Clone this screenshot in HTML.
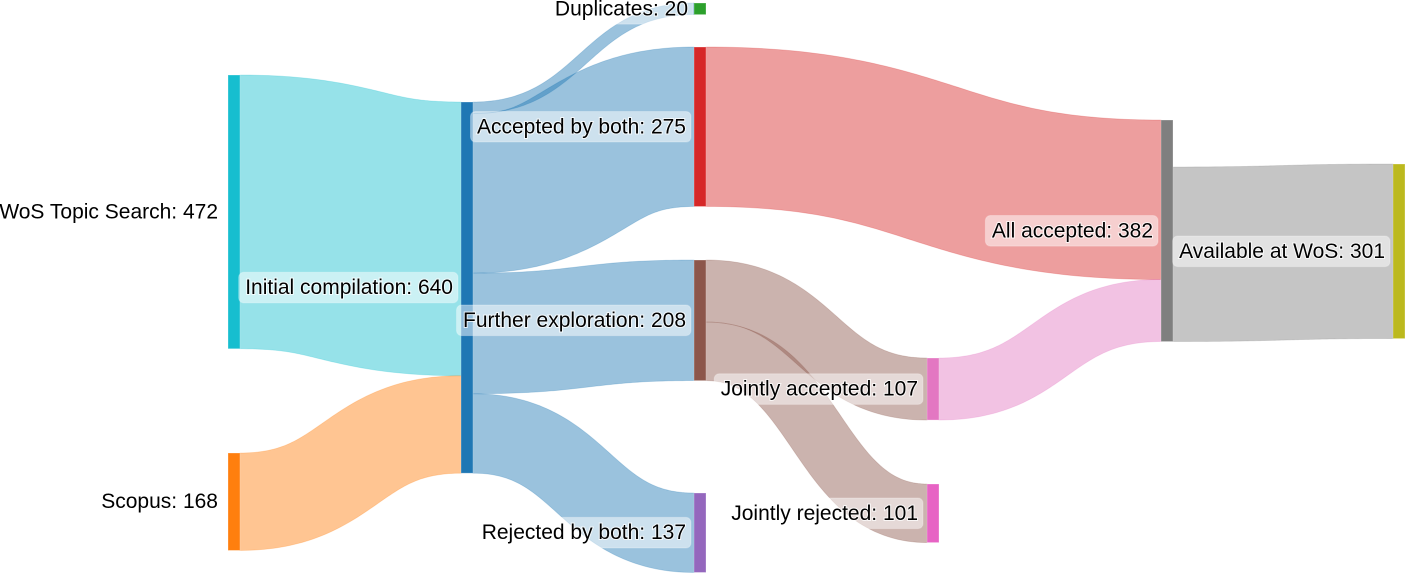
<!DOCTYPE html>
<html lang="en">
<head>
<meta charset="utf-8">
<title>Literature selection Sankey diagram</title>
<style>
  html, body { margin: 0; padding: 0; background: #ffffff; }
  body { width: 1406px; height: 573px; overflow: hidden; }
  svg { display: block; filter: blur(0.35px); }
  text {
    font-family: "Liberation Sans", sans-serif;
    font-size: 21px;
    fill: #000;
    stroke: rgba(255,255,255,0.75);
    stroke-width: 2px;
    paint-order: stroke;
    text-anchor: end;
    dominant-baseline: central;
  }
</style>
</head>
<body>
<svg id="chart" width="1406" height="573" viewBox="0 0 1406 573" xmlns="http://www.w3.org/2000/svg">
  <g id="links"></g>
  <g id="nodes"></g>
  <g id="labels"></g>
</svg>
<script>
// ---- data ----
const nodeNames = ["WoS Topic Search", "Scopus", "Initial compilation", "Duplicates", "Accepted by both",
                   "Further exploration", "Rejected by both", "Jointly accepted", "Jointly rejected",
                   "All accepted", "Available at WoS"];
const nodeValues = [472, 168, 640, 20, 275, 208, 137, 107, 101, 382, 301];
const linkSources = [0, 1, 2, 2, 2, 2, 4, 5, 5, 7, 9];
const linkTargets = [2, 2, 3, 4, 5, 6, 9, 7, 8, 9, 10];
const linkValues  = [472, 168, 20, 275, 208, 137, 275, 107, 101, 107, 301];

// ---- layout (not data) ----
const PX_PER_UNIT = 0.58;
const NODE_WIDTH = 12;
const SAMPLES = 80;
const nodeLayout = [
  { col: 0, top: 75,  gap: 10, color: "#17becf", link: "#17becf" },
  { col: 0, top: 453, gap: 10, color: "#ff7f0e", link: "#ff7f0e" },
  { col: 1, top: 102, gap: 8,  color: "#1f77b4", link: "#1f77b4" },
  { col: 2, top: 3,   gap: 6,  color: "#2ca02c", link: "#2ca02c" },
  { col: 2, top: 47,  gap: 8,  color: "#d62728", link: "#d62728" },
  { col: 2, top: 260, gap: 8,  color: "#8c564b", link: "#8c564b" },
  { col: 2, top: 493, gap: 8,  color: "#9467bd", link: "#9467bd" },
  { col: 3, top: 358, gap: 9,  color: "#e377c2", link: "#e377c2" },
  { col: 3, top: 484, gap: 9,  color: "#e763c4", link: "#e377c2" },
  { col: 4, top: 120, gap: 8,  color: "#7f7f7f", link: "#7f7f7f" },
  { col: 5, top: 164, gap: 8,  color: "#bcb91e", link: "#bcbd22" }
];
const columnLeft = [228, 461, 694, 927, 1161, 1393];

function xOf(i) { return columnLeft[nodeLayout[i].col]; }
function yScale(v) { return v * PX_PER_UNIT; }

const NS = "http://www.w3.org/2000/svg";
const linksGroup = document.getElementById("links");
const nodesGroup = document.getElementById("nodes");
const labelsGroup = document.getElementById("labels");

function slug(s) { return s.toLowerCase().replace(/[^a-z0-9]+/g, "-"); }

// A band of constant perpendicular width following a horizontal S-curve centre line.
function bandPath(x0, x1, yc0, yc1, h) {
  const xm = (x0 + x1) / 2;
  const upper = [], lower = [];
  for (let n = 0; n <= SAMPLES; n++) {
    const t = n / SAMPLES, u = 1 - t;
    const x = u*u*u*x0 + 3*u*u*t*xm + 3*u*t*t*xm + t*t*t*x1;
    const y = u*u*u*yc0 + 3*u*u*t*yc0 + 3*u*t*t*yc1 + t*t*t*yc1;
    const dx = 3*u*u*(xm-x0) + 3*t*t*(x1-xm);
    const dy = 6*u*t*(yc1-yc0);
    const len = Math.hypot(dx, dy) || 1;
    const ox = -dy / len * h / 2, oy = dx / len * h / 2;
    const clamp = v => Math.min(x1, Math.max(x0, v));
    upper.push(clamp(x - ox).toFixed(2) + "," + (y - oy).toFixed(2));
    lower.push(clamp(x + ox).toFixed(2) + "," + (y + oy).toFixed(2));
  }
  return "M" + upper.join("L") + "L" + lower.reverse().join("L") + "Z";
}

// totals out per node
const totalOut = nodeNames.map(() => 0);
linkValues.forEach((v, k) => { totalOut[linkSources[k]] += v; });

// out-flow sits at the bottom of a node when part of the inflow leaves the chart
const outCursor = nodeNames.map((_, i) => Math.max(0, nodeValues[i] - totalOut[i]));
const inCursor = nodeNames.map(() => 0);

// links
linkValues.forEach((v, k) => {
  const s = linkSources[k], t = linkTargets[k];
  const x0 = xOf(s) + NODE_WIDTH, x1 = xOf(t);
  const h = yScale(v);
  const y0 = nodeLayout[s].top + yScale(outCursor[s]);
  const y1 = nodeLayout[t].top + yScale(inCursor[t]);
  outCursor[s] += v;
  inCursor[t] += v;
  const p = document.createElementNS(NS, "path");
  p.setAttribute("d", bandPath(x0, x1, y0 + h / 2, y1 + h / 2, h));
  p.setAttribute("fill", nodeLayout[s].link);
  p.setAttribute("fill-opacity", "0.45");
  p.setAttribute("stroke", nodeLayout[s].link);
  p.setAttribute("stroke-opacity", "0.25");
  p.setAttribute("stroke-width", "0.8");
  
  
  linksGroup.appendChild(p);
});

// nodes
nodeNames.forEach((name, i) => {
  const r = document.createElementNS(NS, "rect");
  r.setAttribute("x", xOf(i));
  r.setAttribute("y", nodeLayout[i].top);
  r.setAttribute("width", NODE_WIDTH);
  r.setAttribute("height", yScale(nodeValues[i]));
  r.setAttribute("fill", nodeLayout[i].color);
  r.setAttribute("stroke", "rgba(255,255,255,0.35)");
  r.setAttribute("stroke-width", "0.8");
  
  
  nodesGroup.appendChild(r);
});

// labels
nodeNames.forEach((name, i) => {
  const cy = nodeLayout[i].top + yScale(nodeValues[i]) / 2;
  const right = xOf(i) - nodeLayout[i].gap;
  const box = document.createElementNS(NS, "rect");
  
  
  labelsGroup.appendChild(box);
  const t = document.createElementNS(NS, "text");
  t.setAttribute("x", right);
  t.setAttribute("y", cy);
  t.textContent = name + ": " + nodeValues[i];
  
  
  labelsGroup.appendChild(t);
  const w = t.getComputedTextLength();
  box.setAttribute("x", right - w - 6.5);
  box.setAttribute("y", cy - 15.3);
  box.setAttribute("width", w + 11.5);
  box.setAttribute("height", 30.6);
  box.setAttribute("rx", 5);
  box.setAttribute("fill", "rgba(255,255,255,0.5)");
  box.setAttribute("stroke", "rgba(255,255,255,0.25)");
});
</script>
</body>
</html>
